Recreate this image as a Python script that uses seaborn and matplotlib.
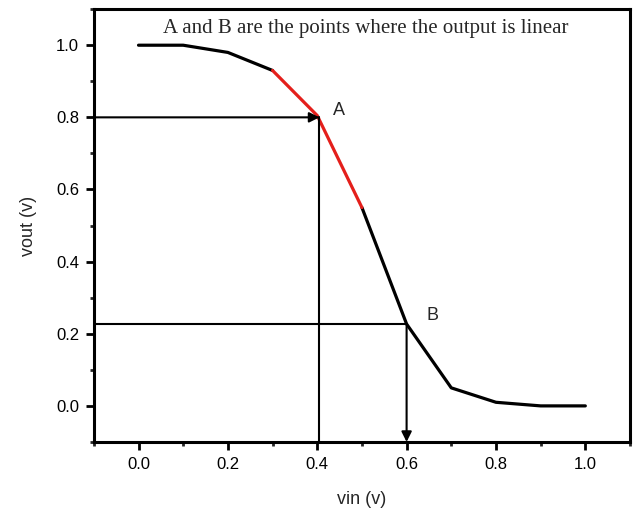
import matplotlib
matplotlib.use("Agg")
import matplotlib.pyplot as plt
import seaborn as sns
import numpy as np
import pandas as pd
from matplotlib.ticker import MultipleLocator, FormatStrFormatter

vin = [0.0, 0.1, 0.2, 0.3, 0.4, 0.5, 0.6, 0.7, 0.8, 0.9, 1.0]
vout = [1.0, 1.0, 0.98, 0.93, 0.805, 0.55, 0.227, 0.05, 0.01, 0.0, 0.0]
linear_start, linear_end = 0.3, 0.5
point_a = (0.405, 0.80)
point_b = (0.60, 0.227)
title_text = "A and B are the points where the output is linear"

sns.set_theme(style="ticks")
plt.rcParams['font.family'] = ['Liberation Sans', 'DejaVu Sans']

df = pd.DataFrame({"vin": vin, "vout": vout})
df_red = df[(df.vin >= linear_start - 1e-9) & (df.vin <= linear_end + 1e-9)]
df_lo = df[df.vin <= linear_start + 1e-9]
df_hi = df[df.vin >= linear_end - 1e-9]

fig = plt.figure(figsize=(6.34, 5.08), dpi=100)
ax = fig.add_axes([0.148, 0.130, 0.9937 - 0.148, 0.982 - 0.130])

sns.lineplot(data=df_lo, x="vin", y="vout", color="black", lw=2.3, ax=ax)
sns.lineplot(data=df_hi, x="vin", y="vout", color="black", lw=2.3, ax=ax)
sns.lineplot(data=df_red, x="vin", y="vout", color="#e41f1b", lw=2.3, ax=ax)

ax.set_xlim(-0.1, 1.1)
ax.set_ylim(-0.1, 1.1)

# guide lines for A
ax.annotate("", xy=point_a, xytext=(-0.1, point_a[1]),
            arrowprops=dict(arrowstyle="-|>", color="black", lw=1.5,
                            mutation_scale=15, shrinkA=0, shrinkB=0))
ax.plot([point_a[0], point_a[0]], [point_a[1], -0.1], color="black", lw=1.5)
# guide lines for B
ax.plot([-0.1, point_b[0]], [point_b[1], point_b[1]], color="black", lw=1.5)
ax.annotate("", xy=(point_b[0], -0.1), xytext=point_b,
            arrowprops=dict(arrowstyle="-|>", color="black", lw=1.5,
                            mutation_scale=15, shrinkA=0, shrinkB=0))

ax.text(point_a[0] + 0.03, point_a[1] - 0.005, "A", fontsize=13, ha="left", va="bottom")
ax.text(point_b[0] + 0.045, point_b[1] + 0.0, "B", fontsize=13, ha="left", va="bottom")
ax.text(0.508, 1.045, title_text, fontsize=15, ha="center", va="center",
        family=["Liberation Serif", "DejaVu Serif"])

ax.set_xticks([0.0, 0.2, 0.4, 0.6, 0.8, 1.0])
ax.set_yticks([0.0, 0.2, 0.4, 0.6, 0.8, 1.0])
ax.xaxis.set_minor_locator(MultipleLocator(0.1))
ax.yaxis.set_minor_locator(MultipleLocator(0.1))
ax.xaxis.set_major_formatter(FormatStrFormatter("%.1f"))
ax.yaxis.set_major_formatter(FormatStrFormatter("%.1f"))
ax.tick_params(which="major", direction="out", length=6, width=2, labelsize=12,
               colors="black", pad=4.5)
ax.tick_params(which="minor", direction="out", length=3, width=2)
for s in ax.spines.values():
    s.set_linewidth(2.2)
    s.set_color("black")

ax.set_xlabel("vin (v)", fontsize=13, labelpad=14)
ax.set_ylabel("vout (v)", fontsize=13, labelpad=14)

fig.savefig("out.png", dpi=100)
